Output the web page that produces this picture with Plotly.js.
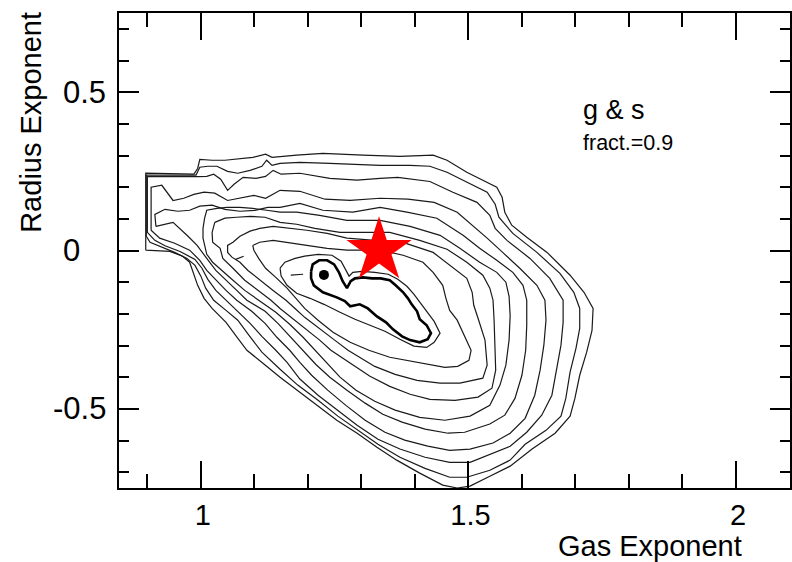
<!DOCTYPE html>
<html>
<head>
<meta charset="utf-8">
<script src="https://cdn.plot.ly/plotly-3.0.1.min.js"></script>
<style>
  html, body { margin: 0; padding: 0; background: #fff; }
  #chart { width: 792px; height: 562px; }
</style>
</head>
<body>
<div id="chart"></div>
<script>
// Contour lines of the fit likelihood in the (gas exponent, radius exponent) plane.
// Each level is a closed path given as x (gas exponent) and y (radius exponent) vertices,
// from the outermost level (1) to the innermost thick level.

const lvl1X = [0.897,0.897,0.987,0.994,0.998,1.021,1.045,1.073,1.097,1.121,1.133,1.179,1.228,1.303,1.372,1.434,1.460,1.497,1.553,1.563,1.568,1.581,1.609,1.647,1.690,1.716,1.733,1.731,1.721,1.708,1.699,1.690,1.662,1.619,1.578,1.540,1.503,1.479,1.452,1.409,1.366,1.329,1.292,1.254,1.222,1.185,1.148,1.116,1.086,1.065,1.047,1.021,1.006,0.994,0.987,0.979,0.966,0.942];
const lvl1Y = [0.001,0.244,0.241,0.259,0.288,0.285,0.285,0.291,0.294,0.304,0.294,0.301,0.307,0.301,0.297,0.301,0.285,0.247,0.200,0.168,0.121,0.080,0.042,-0.006,-0.078,-0.132,-0.183,-0.252,-0.321,-0.394,-0.467,-0.523,-0.577,-0.627,-0.681,-0.713,-0.744,-0.750,-0.741,-0.703,-0.662,-0.621,-0.577,-0.536,-0.495,-0.445,-0.400,-0.356,-0.315,-0.268,-0.227,-0.183,-0.151,-0.110,-0.075,-0.037,-0.018,-0.003];

const lvl2X = [0.898,0.898,0.991,0.998,1.013,1.030,1.050,1.069,1.092,1.114,1.123,1.133,1.148,1.185,1.241,1.297,1.335,1.391,1.428,1.460,1.490,1.535,1.550,1.557,1.583,1.628,1.671,1.697,1.708,1.708,1.701,1.690,1.682,1.673,1.645,1.606,1.578,1.540,1.497,1.465,1.419,1.372,1.331,1.293,1.256,1.219,1.181,1.148,1.114,1.090,1.069,1.047,1.024,1.009,1.000,0.989,0.974,0.951,0.923,0.905];
const lvl2Y = [0.045,0.238,0.238,0.263,0.266,0.266,0.250,0.244,0.253,0.266,0.285,0.269,0.275,0.278,0.275,0.272,0.269,0.269,0.266,0.247,0.222,0.184,0.146,0.105,0.054,-0.006,-0.072,-0.132,-0.183,-0.246,-0.309,-0.384,-0.467,-0.523,-0.568,-0.612,-0.662,-0.694,-0.716,-0.716,-0.688,-0.653,-0.612,-0.568,-0.523,-0.473,-0.425,-0.375,-0.321,-0.268,-0.220,-0.189,-0.157,-0.119,-0.081,-0.047,-0.025,-0.006,0.013,0.026];

const lvl3X = [0.900,0.900,0.994,1.011,1.024,1.037,1.050,1.062,1.079,1.103,1.121,1.135,1.150,1.185,1.241,1.292,1.335,1.368,1.428,1.471,1.516,1.540,1.550,1.572,1.615,1.652,1.677,1.677,1.673,1.665,1.656,1.637,1.609,1.578,1.546,1.503,1.465,1.419,1.372,1.331,1.292,1.254,1.219,1.185,1.161,1.140,1.114,1.092,1.067,1.047,1.028,1.013,1.002,0.989,0.961,0.933,0.914];
const lvl3Y = [0.057,0.233,0.233,0.234,0.241,0.225,0.190,0.209,0.231,0.228,0.234,0.253,0.241,0.244,0.228,0.222,0.228,0.231,0.218,0.184,0.152,0.111,0.070,0.032,-0.025,-0.088,-0.157,-0.227,-0.299,-0.378,-0.457,-0.520,-0.574,-0.618,-0.640,-0.669,-0.669,-0.653,-0.627,-0.596,-0.552,-0.504,-0.457,-0.406,-0.353,-0.315,-0.271,-0.230,-0.189,-0.157,-0.126,-0.091,-0.056,-0.028,-0.003,0.015,0.032];

const lvl4X = [0.907,0.907,0.927,0.936,0.948,0.968,0.987,1.006,1.026,1.050,1.073,1.099,1.121,1.148,1.185,1.232,1.279,1.335,1.387,1.436,1.479,1.508,1.535,1.564,1.596,1.628,1.643,1.645,1.641,1.634,1.624,1.606,1.578,1.546,1.503,1.465,1.424,1.381,1.344,1.307,1.271,1.237,1.207,1.185,1.166,1.142,1.120,1.095,1.067,1.047,1.028,1.011,0.998,0.979,0.951,0.923];
const lvl4Y = [0.064,0.200,0.206,0.184,0.158,0.165,0.177,0.184,0.181,0.158,0.165,0.174,0.165,0.190,0.187,0.162,0.158,0.165,0.162,0.152,0.121,0.080,0.039,-0.006,-0.056,-0.110,-0.157,-0.220,-0.299,-0.378,-0.457,-0.530,-0.577,-0.608,-0.627,-0.631,-0.618,-0.599,-0.574,-0.536,-0.489,-0.441,-0.394,-0.353,-0.315,-0.274,-0.230,-0.192,-0.157,-0.126,-0.094,-0.063,-0.031,0.001,0.023,0.039];

const lvl5X = [0.916,0.914,0.933,0.957,0.979,0.998,1.021,1.045,1.073,1.101,1.125,1.148,1.185,1.228,1.284,1.335,1.385,1.441,1.490,1.521,1.553,1.583,1.602,1.609,1.609,1.607,1.600,1.587,1.568,1.540,1.493,1.462,1.419,1.376,1.340,1.307,1.273,1.241,1.215,1.191,1.166,1.144,1.120,1.086,1.067,1.047,1.028,1.011,0.993,0.976,0.961,0.948];
const lvl5Y = [0.076,0.114,0.130,0.124,0.127,0.140,0.143,0.130,0.124,0.127,0.136,0.136,0.149,0.127,0.121,0.136,0.121,0.102,0.048,0.007,-0.031,-0.069,-0.110,-0.157,-0.236,-0.315,-0.394,-0.467,-0.520,-0.548,-0.574,-0.577,-0.564,-0.542,-0.517,-0.482,-0.441,-0.400,-0.360,-0.315,-0.271,-0.230,-0.192,-0.157,-0.126,-0.094,-0.063,-0.025,0.016,0.045,0.070,0.089];

const lvl6X = [1.004,1.004,1.007,1.011,1.030,1.049,1.073,1.097,1.123,1.148,1.179,1.222,1.273,1.335,1.391,1.447,1.484,1.521,1.553,1.570,1.576,1.578,1.576,1.570,1.559,1.540,1.503,1.456,1.409,1.363,1.325,1.290,1.260,1.236,1.215,1.191,1.166,1.140,1.108,1.082,1.060,1.039,1.022,1.011];
const lvl6Y = [0.039,0.070,0.102,0.127,0.133,0.136,0.136,0.133,0.127,0.121,0.121,0.111,0.095,0.095,0.076,0.048,0.007,-0.037,-0.069,-0.100,-0.145,-0.205,-0.283,-0.362,-0.425,-0.489,-0.523,-0.536,-0.527,-0.504,-0.476,-0.441,-0.400,-0.356,-0.315,-0.274,-0.233,-0.195,-0.157,-0.126,-0.094,-0.063,-0.037,-0.012];

const lvl7X = [1.026,1.045,1.067,1.092,1.120,1.148,1.179,1.213,1.260,1.307,1.353,1.409,1.460,1.497,1.527,1.540,1.546,1.548,1.550,1.551,1.544,1.518,1.475,1.428,1.391,1.353,1.316,1.282,1.256,1.243,1.222,1.194,1.170,1.148,1.131,1.107,1.082,1.060,1.041,1.036,1.022,1.021];
const lvl7Y = [0.089,0.102,0.105,0.108,0.105,0.089,0.083,0.070,0.057,0.057,0.057,0.032,0.004,-0.037,-0.078,-0.119,-0.157,-0.220,-0.299,-0.378,-0.435,-0.463,-0.473,-0.470,-0.454,-0.429,-0.397,-0.359,-0.331,-0.315,-0.283,-0.246,-0.214,-0.183,-0.157,-0.126,-0.094,-0.056,-0.025,0.007,0.026,0.057];

const lvl8X = [1.060,1.073,1.092,1.110,1.135,1.166,1.198,1.236,1.273,1.325,1.372,1.434,1.465,1.497,1.507,1.510,1.518,1.531,1.535,1.527,1.484,1.447,1.404,1.363,1.325,1.293,1.275,1.250,1.222,1.194,1.176,1.159,1.135,1.110,1.088,1.073,1.058,1.050,1.050];
const lvl8Y = [0.026,0.045,0.061,0.070,0.076,0.070,0.064,0.054,0.039,0.032,0.029,-0.006,-0.047,-0.088,-0.132,-0.173,-0.214,-0.283,-0.362,-0.403,-0.419,-0.419,-0.410,-0.391,-0.366,-0.334,-0.315,-0.283,-0.246,-0.211,-0.183,-0.157,-0.126,-0.094,-0.063,-0.037,-0.021,-0.006,0.016];

const lvl9X = [1.097,1.110,1.135,1.161,1.198,1.236,1.273,1.335,1.378,1.415,1.434,1.452,1.458,1.465,1.479,1.490,1.505,1.501,1.480,1.456,1.404,1.353,1.314,1.279,1.247,1.219,1.194,1.181,1.161,1.140,1.121,1.108,1.099];
const lvl9Y = [0.016,0.026,0.032,0.026,0.016,0.007,0.001,0.001,-0.015,-0.037,-0.069,-0.110,-0.151,-0.189,-0.220,-0.261,-0.315,-0.347,-0.366,-0.369,-0.353,-0.337,-0.315,-0.290,-0.258,-0.220,-0.183,-0.157,-0.119,-0.085,-0.056,-0.025,0.001];

const lvl10X = [1.148,1.157,1.176,1.194,1.219,1.245,1.262,1.271,1.277,1.284,1.301,1.325,1.350,1.368,1.385,1.398,1.409,1.422,1.436,1.447,1.436,1.422,1.398,1.372,1.344,1.316,1.288,1.260,1.230,1.204,1.179,1.161,1.150];
const lvl10Y = [-0.056,-0.037,-0.025,-0.018,-0.012,-0.015,-0.034,-0.063,-0.081,-0.069,-0.066,-0.069,-0.075,-0.091,-0.113,-0.138,-0.164,-0.192,-0.224,-0.261,-0.290,-0.306,-0.302,-0.280,-0.255,-0.236,-0.217,-0.195,-0.170,-0.151,-0.135,-0.110,-0.081];

// innermost (thick) level
const coreX = [1.206,1.209,1.221,1.236,1.249,1.258,1.265,1.273,1.280,1.288,1.303,1.320,1.336,1.353,1.364,1.378,1.387,1.394,1.404,1.409,1.422,1.430,1.424,1.409,1.391,1.376,1.359,1.346,1.329,1.312,1.297,1.279,1.269,1.254,1.228,1.211,1.206];
const coreY = [-0.066,-0.044,-0.031,-0.031,-0.044,-0.069,-0.097,-0.119,-0.097,-0.088,-0.085,-0.088,-0.088,-0.094,-0.110,-0.132,-0.151,-0.170,-0.192,-0.217,-0.236,-0.261,-0.280,-0.290,-0.283,-0.271,-0.249,-0.227,-0.208,-0.183,-0.170,-0.176,-0.160,-0.148,-0.132,-0.110,-0.088];

// short open fragments of a contour level
const frag1X = [1.065, 1.080];
const frag1Y = [-0.028, -0.018];
const frag2X = [1.168, 1.191];
const frag2Y = [-0.078, -0.075];

// best-fit point and reference value
const bestX = [1.230];
const bestY = [-0.077];
const refX = [1.333];
const refY = [0.0];

// axis ticks
const xTickVals = [1, 1.5, 2];
const xTickText = ['1', '1.5', '2'];
const yTickVals = [-0.5, 0, 0.5];
const yTickText = ['-0.5', '0', '0.5'];

const closed = a => a.concat([a[0]]);

const thin = { color: '#1a1a1a', width: 1.2 };
const levels = [
  [lvl1X, lvl1Y], [lvl2X, lvl2Y], [lvl3X, lvl3Y], [lvl4X, lvl4Y], [lvl5X, lvl5Y],
  [lvl6X, lvl6Y], [lvl7X, lvl7Y], [lvl8X, lvl8Y], [lvl9X, lvl9Y], [lvl10X, lvl10Y]
];

const traces = levels.map(([xs, ys]) => ({
  type: 'scatter', mode: 'lines', x: closed(xs), y: closed(ys),
  line: thin, hoverinfo: 'skip'
}));

traces.push({
  type: 'scatter', mode: 'lines', x: closed(coreX), y: closed(coreY),
  line: { color: '#000', width: 2.6 }, hoverinfo: 'skip'
});
traces.push({ type: 'scatter', mode: 'lines', x: frag1X, y: frag1Y, line: thin, hoverinfo: 'skip' });
traces.push({ type: 'scatter', mode: 'lines', x: frag2X, y: frag2Y, line: thin, hoverinfo: 'skip' });
traces.push({
  type: 'scatter', mode: 'markers', x: bestX, y: bestY,
  marker: { symbol: 'circle', size: 10, color: '#000' }
});
traces.push({
  type: 'scatter', mode: 'markers', x: refX, y: refY,
  marker: { symbol: 'star', size: 49, color: '#ff0000', line: { width: 0 } }
});

const font = 'Liberation Sans, Arial, Helvetica, sans-serif';

// y tick labels: digits share a common left edge, a leading minus sign hangs to the left
const yLabelSize = 31;
const yLabels = yTickVals.map((v, i) => ({
  text: yTickText[i], xref: 'paper', yref: 'y', x: -0.0864, y: v,
  xanchor: 'left', yanchor: 'middle', showarrow: false,
  xshift: yTickText[i].startsWith('-') ? -0.333 * yLabelSize : 0,
  font: { family: font, size: yLabelSize, color: '#000' }
}));

const layout = {
  width: 792, height: 562,
  margin: { l: 119, r: 2, t: 13, b: 74 },
  paper_bgcolor: '#fff', plot_bgcolor: '#fff',
  showlegend: false,
  font: { family: font, color: '#000' },
  xaxis: {
    range: [0.847, 2.101], showgrid: false, zeroline: false,
    showline: true, linecolor: '#000', linewidth: 2, mirror: 'ticks',
    ticks: 'inside', ticklen: 27, tickwidth: 2, tickcolor: '#000',
    tickvals: xTickVals, ticktext: xTickText, ticklabelshift: 2,
    tickfont: { family: font, size: 29, color: '#000' },
    minor: { ticks: 'inside', tick0: 0, dtick: 0.1, ticklen: 14, tickwidth: 2, tickcolor: '#000', showgrid: false }
  },
  yaxis: {
    range: [-0.75, 0.75], showgrid: false, zeroline: false,
    showline: true, linecolor: '#000', linewidth: 2, mirror: 'ticks',
    ticks: 'inside', ticklen: 20, tickwidth: 2, tickcolor: '#000',
    tickvals: yTickVals, showticklabels: false,
    minor: { ticks: 'inside', tick0: 0, dtick: 0.1, ticklen: 10, tickwidth: 2, tickcolor: '#000', showgrid: false }
  },
  annotations: yLabels.concat([
    { text: 'Radius Exponent', xref: 'paper', yref: 'paper', x: -0.131, y: 0.769,
      textangle: -90, showarrow: false, xanchor: 'center', yanchor: 'middle',
      font: { family: font, size: 29, color: '#000' } },
    { text: 'Gas Exponent', xref: 'paper', yref: 'paper', x: 0.792, y: -0.123,
      showarrow: false, xanchor: 'center', yanchor: 'middle',
      font: { family: font, size: 29, color: '#000' } },
    { text: 'g &amp; s', xref: 'paper', yref: 'paper', x: 0.688, y: 0.796,
      showarrow: false, xanchor: 'left', yanchor: 'middle',
      font: { family: font, size: 27, color: '#000' } },
    { text: 'fract.=0.9', xref: 'paper', yref: 'paper', x: 0.688, y: 0.726,
      showarrow: false, xanchor: 'left', yanchor: 'middle',
      font: { family: font, size: 21.5, color: '#000' } }
  ])
};

Plotly.newPlot('chart', traces, layout, { displayModeBar: false, staticPlot: true });
</script>
</body>
</html>
